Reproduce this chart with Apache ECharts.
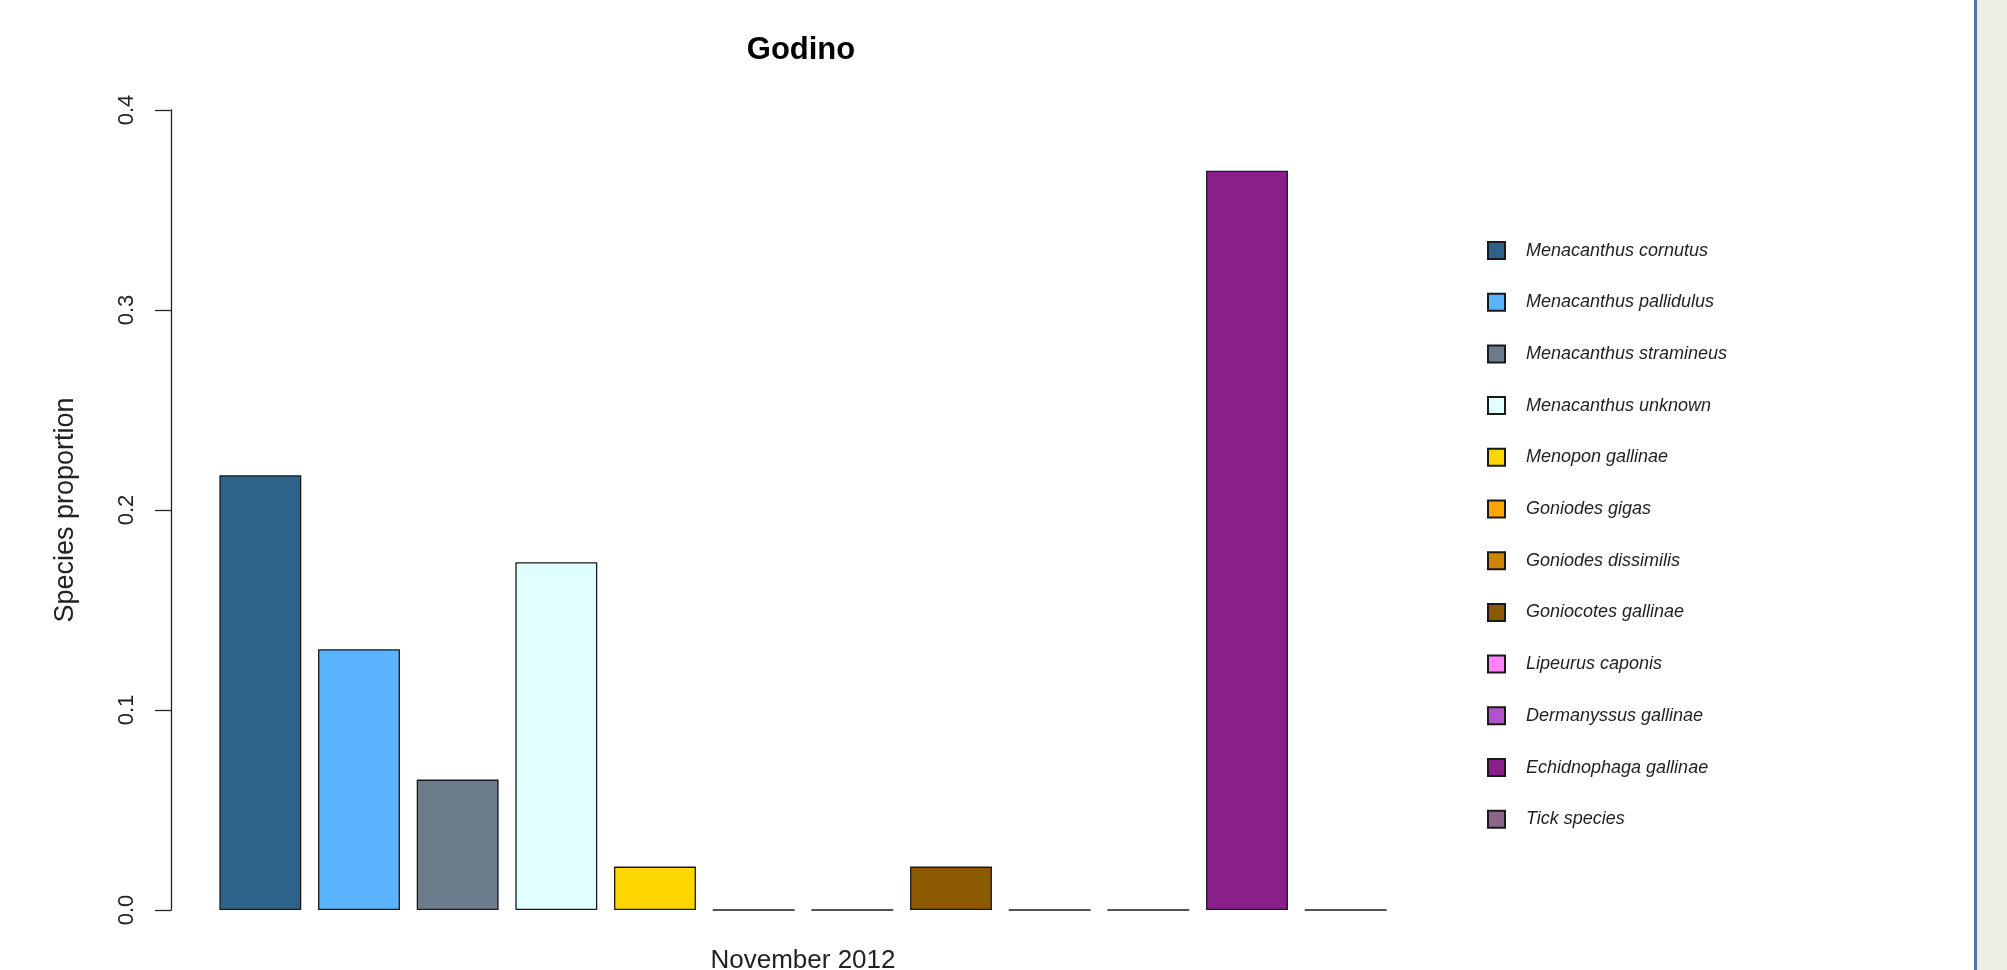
<!DOCTYPE html>
<html lang="en">
<head>
    <meta charset="UTF-8">
    <script src="https://cdn.jsdelivr.net/npm/echarts@6/dist/echarts.min.js"></script>
    <title>Godino</title>
</head>
<style>
    body{
        width: 100%;
        height: 100%;
        margin: 0;
        padding: 0;
        background: #fff;
    }
</style>
<body>
<div id="chart" style="width: 2007px;height:970px;"></div>
</body>
<script>
    // species shown in the legend / one bar each
    var species = [
        'Menacanthus cornutus', 'Menacanthus pallidulus', 'Menacanthus stramineus',
        'Menacanthus unknown', 'Menopon gallinae', 'Goniodes gigas',
        'Goniodes dissimilis', 'Goniocotes gallinae', 'Lipeurus caponis',
        'Dermanyssus gallinae', 'Echidnophaga gallinae', 'Tick species'
    ];
    // proportions, November 2012
    var proportions = [0.2174, 0.1304, 0.0652, 0.1739, 0.0217, 0, 0, 0.0217, 0, 0, 0.3696, 0];
    var yTicks = [0, 0.1, 0.2, 0.3, 0.4];
    var colours = [
        '#2c6389', '#59b4fd', '#6c7c8d', '#e0ffff', '#ffd700', '#ffa500',
        '#cd8500', '#8b5a00', '#ff83fa', '#b452cd', '#8a1e8a', '#8b668b'
    ];

    var font = 'Liberation Sans, Arial, sans-serif';

    var series = [];
    for (var i = 0; i < species.length; i++) {
        var d = [];
        for (var j = 0; j < species.length; j++) {
            d.push(j === i ? proportions[i] : '-');
        }
        series.push({
            name: species[i],
            type: 'bar',
            stack: 'all',
            data: d,
            barCategoryGap: '17%',
            itemStyle: {
                color: colours[i],
                borderColor: '#1a1a1a',
                borderWidth: 1.3
            }
        });
    }

    var chart = echarts.init(document.getElementById('chart'));
    var option = {
        animation: false,
        backgroundColor: '#ffffff',
        title: {
            text: 'Godino',
            left: 801,
            top: 35,
            padding: 0,
            textAlign: 'center',
            textStyle: {fontFamily: font, fontSize: 31, fontWeight: 'bold', color: '#000'}
        },
        legend: {
            orient: 'vertical',
            left: 1482,
            top: 236,
            icon: 'rect',
            itemWidth: 17,
            itemHeight: 17,
            itemGap: 32.7,
            selectedMode: false,
            data: species,
            textStyle: {
                fontFamily: font,
                fontSize: 18,
                fontStyle: 'italic',
                color: '#222',
                padding: [0, 0, 0, 16]
            }
        },
        grid: {
            left: 211,
            right: 612,
            top: 110,
            bottom: 60,
            containLabel: false,
            outerBoundsMode: 'none'
        },
        xAxis: {
            type: 'category',
            data: species,
            name: 'November 2012',
            nameLocation: 'middle',
            nameGap: 38,
            nameTextStyle: {fontFamily: font, fontSize: 26, color: '#222'},
            axisLine: {show: false},
            axisTick: {show: false},
            axisLabel: {show: false}
        },
        yAxis: {
            type: 'value',
            min: yTicks[0],
            max: yTicks[yTicks.length - 1],
            interval: 0.1,
            offset: 40,
            name: 'Species proportion',
            nameLocation: 'middle',
            nameGap: 92,
            nameTextStyle: {fontFamily: font, fontSize: 27, color: '#222'},
            axisLine: {show: true, lineStyle: {color: '#222', width: 1.3}},
            axisTick: {show: true, length: 16, lineStyle: {color: '#222', width: 1.3}},
            splitLine: {show: false},
            axisLabel: {
                rotate: 90,
                margin: 33,
                fontFamily: font,
                fontSize: 22,
                color: '#222',
                formatter: function (v) { return v.toFixed(1); }
            }
        },
        graphic: [
            {type: 'rect', shape: {x: 1974, y: 0, width: 3, height: 970}, style: {fill: '#4e78a8'}, silent: true},
            {type: 'rect', shape: {x: 1977, y: 0, width: 30, height: 970}, style: {fill: '#eeede6'}, silent: true}
        ],
        series: series
    };
    chart.setOption(option);
</script>
</html>
